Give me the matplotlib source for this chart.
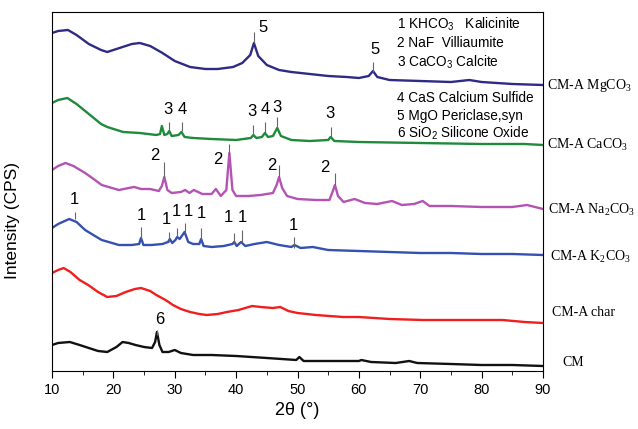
import matplotlib
matplotlib.use("Agg")
from matplotlib import pyplot as plt
import matplotlib.ticker as ticker

plt.rcParams["font.family"] = ["Liberation Sans", "DejaVu Sans"]
plt.rcParams["mathtext.fontset"] = "custom"
plt.rcParams["mathtext.rm"] = "Liberation Serif"
plt.rcParams["mathtext.sf"] = "Liberation Sans"

# --- curves (2theta, intensity in arbitrary stacked units) ---
mg_x = [10, 11, 12.6, 14, 16, 18, 19, 21, 23, 24.3, 26, 28, 30, 32.5, 35, 37, 39.5, 41, 42.3, 42.9, 43.6,
        45, 47, 49, 52, 55, 58, 60, 61.6, 62.3, 63, 65, 70, 75, 78, 80, 85, 90]
mg_y = [338, 340, 341, 336, 327, 321, 319, 323, 327, 328, 325, 318, 310, 304, 302, 302, 304, 308, 316, 328, 315,
        306, 301, 299, 297, 295, 294, 293, 295, 300, 294, 291, 290, 289, 291, 289, 287, 286]

ca_x = [10, 11, 12.5, 14, 16, 18, 19, 21.6, 24.3, 27, 27.6, 27.9, 28.3, 28.8, 29.1, 29.5, 30.6, 31.1, 31.6,
        33, 36, 40, 42.4, 42.8, 43.3, 44.2, 44.7, 45.2, 46, 46.7, 47.3, 49, 52, 55, 55.4, 56, 60, 70, 80, 87, 90]
ca_y = [268, 271, 273, 267, 257, 247, 244, 239, 238, 236, 237, 245, 236, 237, 240, 235, 236, 239, 234,
        233, 232, 231, 233, 236, 233, 234, 238, 234, 235, 243, 235, 231, 230, 231, 234, 230, 229, 228, 227, 227, 226]

na_x = [10, 11, 12.2, 13.5, 15.4, 17, 18.1, 20.9, 22.5, 23.4, 24.5, 26, 27.4, 27.9, 28.3, 28.8, 29.5, 31,
        31.7, 32.4, 33.1, 34.5, 36, 36.7, 37.5, 38.4, 38.9, 39.4, 40, 42, 44, 46, 46.6, 47.0, 47.5, 48.3, 50,
        53, 55.2, 55.7, 56.1, 56.6, 57.5, 59.3, 61, 63, 65.4, 67, 69, 70.4, 71.5, 75, 80, 85, 87.4, 90]
na_y = [201, 205, 208, 205, 198, 191, 186, 181, 183, 184, 182, 182, 180, 185, 194, 181, 178, 179,
        181, 178, 181, 177, 177, 182, 175, 181, 218, 181, 175, 175, 176, 178, 186, 194, 183, 175, 172,
        171, 171, 179, 186, 175, 169, 172, 168, 167, 170, 166, 167, 170, 165, 165, 164, 164, 166, 162]

k_x = [10, 11, 12.8, 14, 15.4, 17, 18.1, 20.9, 23, 24.2, 24.5, 24.9, 26.2, 28, 28.9, 29.2, 29.6, 30.1, 30.4,
       30.8, 31.6, 32.2, 33, 34.0, 34.3, 34.7, 36, 38, 39.4, 39.7, 40.1, 40.8, 41.5, 43, 45, 47, 49, 49.5,
       50.5, 52.5, 55, 60, 65, 70, 75, 80, 85, 90]
k_y = [143, 147, 152, 149, 141, 135, 131, 126, 126, 127, 133, 126, 126, 127, 129, 132, 128, 131, 134,
       132, 139, 129, 127, 127, 132, 125, 124, 125, 127, 129, 125, 129, 125, 127, 129, 126, 124, 126,
       123, 124, 121, 120, 119, 118, 118, 117, 117, 116]

ch_x = [10, 11, 11.9, 13, 14.5, 15.9, 17.5, 19, 20.5, 22, 23.5, 24.5, 26, 27, 28.5, 29.7, 31, 32.5, 34, 35.2,
        37, 38.5, 40.4, 42.6, 44, 46, 47.2, 48.5, 50, 53, 57.4, 60, 65, 70.4, 75, 80, 83.4, 87, 90]
ch_y = [98, 101, 103, 99, 91, 86, 79, 74, 75, 79, 82, 83, 80, 76, 71, 66, 62, 59, 57, 56,
        57, 59, 61, 65, 64, 63, 64, 60, 58, 56, 54, 54, 52, 51, 51, 51, 51, 49, 48]

cm_x = [10, 11, 12.9, 14.5, 16, 17.5, 19, 20.5, 21.5, 22.5, 23.6, 25, 26.3, 26.8, 27.1, 27.5, 28, 29, 30, 31,
        33, 36, 40, 45, 49.8, 50.3, 51, 55, 60, 60.4, 62, 66, 68.2, 69.5, 75, 80, 85, 90]
cm_y = [26, 28, 29, 26, 23, 20, 19, 24, 29, 28, 26, 24, 23, 29, 39, 26, 19, 19, 21, 18,
        16, 16, 15, 13, 11, 14, 10, 10, 10, 11, 9, 8, 10, 8, 7, 6, 6, 5]

curves = [
    (mg_x, mg_y, "#2e2b84", r"CM-A MgCO$_3$", 90.65, 286),
    (ca_x, ca_y, "#1f8a3b", r"CM-A CaCO$_3$", 90.65, 226),
    (na_x, na_y, "#b453b4", r"CM-A Na$_2$CO$_3$", 90.8, 161),
    (k_x, k_y, "#3550b0", r"CM-A K$_2$CO$_3$", 91.1, 114),
    (ch_x, ch_y, "#f01e1e", "CM-A char", 91.5, 58),
    (cm_x, cm_y, "#111111", "CM", 93.1, 9),
]

# peak markers: label, line x, line bottom, line top, text x, text y
markers = [
    ("5", 42.9, 328, 339, 44.4, 344), ("5", 62.3, 299, 309, 62.6, 321),
    ("3", 29.1, 240, 249, 28.9, 261), ("4", 31.1, 240, 249, 31.2, 261),
    ("3", 42.8, 236, 246, 42.6, 259), ("4", 44.7, 238, 249, 44.7, 261),
    ("3", 46.7, 243, 254, 46.7, 263), ("3", 55.4, 234, 244, 55.3, 258),
    ("2", 28.3, 194, 209, 26.8, 216), ("2", 38.9, 216, 227, 37.0, 212),
    ("2", 47.0, 194, 206, 45.8, 205), ("2", 56.1, 186, 198, 54.5, 203),
    ("1", 13.8, 152, 159, 13.6, 171), ("1", 24.5, 132, 144, 24.5, 156),
    ("1", 29.1, 129, 139, 28.6, 151), ("1", 30.4, 134, 143, 30.2, 160),
    ("1", 31.6, 138, 148, 32.3, 160), ("1", 34.3, 131, 143, 34.4, 158),
    ("1", 39.7, 128, 138, 38.8, 154), ("1", 40.9, 129, 141, 41.0, 154),
    ("1", 49.4, 123, 134, 49.4, 146),
    ("6", 27.1, 36, 41, 27.6, 51),
]

legend_lines = [
    r"1 KHCO$_\mathsf{3}$   Kalicinite",
    "2 NaF  Villiaumite",
    r"3 CaCO$_\mathsf{3}$ Calcite",
    "4 CaS Calcium Sulfide",
    r"5 MgO Periclase,syn",
    r"6 SiO$_\mathsf{2}$ Silicone Oxide",
]
legend_y = [0.967, 0.914, 0.861, 0.760, 0.710, 0.663]

fig = plt.figure(figsize=(6.38, 4.29), dpi=100)
ax = fig.add_axes([52 / 638, 58 / 429, 491 / 638, 359 / 429])

for xs, ys, col, name, lx, ly in curves:
    ax.plot(xs, ys, color=col, lw=1.7)
    ax.text(lx, ly, name, family="Liberation Serif", fontsize=10,
            va="center", ha="left", clip_on=False)

for lab, px, y0, y1, tx, ty in markers:
    ax.vlines(px, y0, y1, color="#666666", lw=0.8)
    ax.text(tx, ty, lab, fontsize=12, ha="center", va="center")

for txt, yy in zip(legend_lines, legend_y):
    ax.text(0.703, yy, txt, transform=ax.transAxes, fontsize=9.8, va="center", ha="left")

ax.set_xlim(10, 90)
ax.set_ylim(0, 359)
ax.xaxis.set_major_locator(ticker.MultipleLocator(10))
ax.xaxis.set_minor_locator(ticker.MultipleLocator(5))
ax.tick_params(axis="x", which="major", direction="out", length=5, labelsize=10.5)
ax.tick_params(axis="x", which="minor", direction="out", length=3)
ax.set_yticks([])
ax.set_xlabel("2θ (°)", fontsize=13)
ax.set_ylabel("Intensity (CPS)", fontsize=12.5)
ax.yaxis.set_label_coords(-0.065, 0.42)

fig.savefig("out.png", dpi=100)
